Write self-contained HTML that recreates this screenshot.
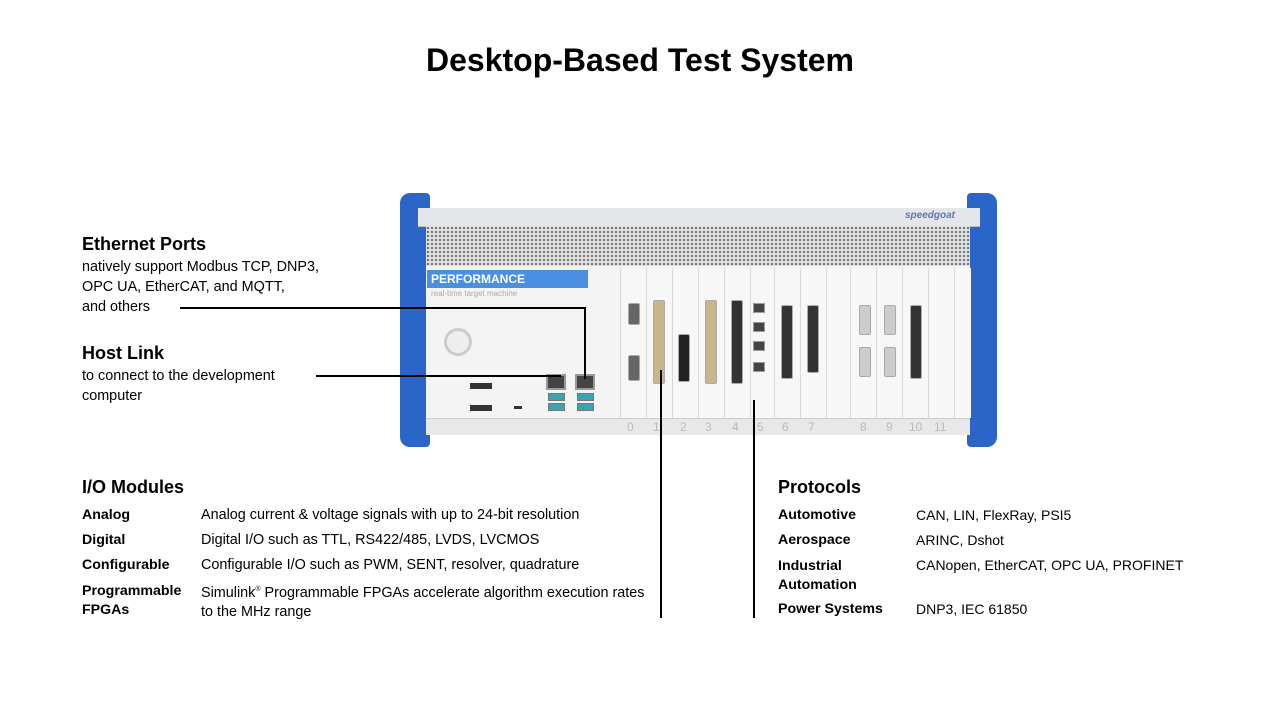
<!DOCTYPE html>
<html><head><meta charset="utf-8"><style>
body{margin:0;width:1280px;height:720px;background:#fff;position:relative;overflow:hidden;font-family:"Liberation Sans",sans-serif;color:#000}
.a{position:absolute;white-space:nowrap}
.h{font-weight:bold;font-size:18px}
.t{font-size:14.4px;line-height:20px}
.b{font-weight:bold;font-size:14.2px}
.ln{position:absolute;background:#000}
.slot{position:absolute;top:268px;height:150px;border-left:1px solid #d8d8d8;background:#f7f7f7}
.num{position:absolute;top:420px;font-size:12px;color:#bbb}
.dsub{position:absolute;width:10px;border:1px solid #aaa;background:#666;border-radius:2px}
.eth{position:absolute;width:16px;height:12px;background:#444;border:2px solid #999}
.usb{position:absolute;width:15px;height:6px;background:#3aa3b0;border:1px solid #777}
</style></head><body>
<div class="a" style="left:0;width:1280px;text-align:center;top:42px;font-size:32px;font-weight:bold">Desktop-Based Test System</div>

<!-- device -->
<div style="position:absolute;left:400px;top:193px;width:30px;height:254px;background:#2a66c8;border-radius:10px 4px 4px 10px"></div>
<div style="position:absolute;left:967px;top:193px;width:30px;height:254px;background:#2a66c8;border-radius:4px 10px 10px 4px"></div>
<div style="position:absolute;left:418px;top:208px;width:562px;height:18px;background:#e4e6ea;border-bottom:1px solid #bbb"></div>
<div class="a" style="left:905px;top:210px;font-size:10px;font-style:italic;color:#5a7ab0;font-weight:bold">speedgoat</div>
<div style="position:absolute;left:426px;top:226px;width:544px;height:40px;background:radial-gradient(circle,#777 0 1px,transparent 1.5px) 0 0/4px 4px,#e6e6e6"></div>
<div style="position:absolute;left:426px;top:266px;width:544px;height:152px;background:#f4f4f5"></div>
<div style="position:absolute;left:426px;top:418px;width:544px;height:16px;background:#e8e8ea;border-top:1px solid #ccc"></div>
<div class="a" style="left:427px;top:270px;width:161px;height:18px;background:#4a8fe0;color:#fff;font-size:12px;font-weight:bold;line-height:18px;padding-left:4px;box-sizing:border-box">PERFORMANCE</div>
<div class="a" style="left:431px;top:289px;font-size:8px;color:#aaa">real-time target machine</div>
<div style="position:absolute;left:444px;top:328px;width:22px;height:22px;border-radius:50%;border:3px solid #ccc;background:#eee"></div>
<div style="position:absolute;left:470px;top:383px;width:22px;height:6px;background:#333"></div>
<div style="position:absolute;left:470px;top:405px;width:22px;height:6px;background:#333"></div>
<div style="position:absolute;left:514px;top:406px;width:8px;height:3px;background:#333"></div>
<div class="eth" style="left:546px;top:374px"></div><div class="eth" style="left:575px;top:374px"></div>
<div class="usb" style="left:548px;top:393px"></div><div class="usb" style="left:577px;top:393px"></div>
<div class="usb" style="left:548px;top:403px"></div><div class="usb" style="left:577px;top:403px"></div>
<div class="slot" style="left:620px;width:26px"></div>
<div class="slot" style="left:646px;width:26px"></div>
<div class="slot" style="left:672px;width:26px"></div>
<div class="slot" style="left:698px;width:26px"></div>
<div class="slot" style="left:724px;width:26px"></div>
<div class="slot" style="left:750px;width:24px"></div>
<div class="slot" style="left:774px;width:26px"></div>
<div class="slot" style="left:800px;width:26px"></div>
<div class="slot" style="left:826px;width:24px"></div>
<div class="slot" style="left:850px;width:26px"></div>
<div class="slot" style="left:876px;width:26px"></div>
<div class="slot" style="left:902px;width:26px"></div>
<div class="slot" style="left:928px;width:26px"></div>
<div class="slot" style="left:954px;width:16px"></div>
<div class="dsub" style="left:628px;top:303px;height:20px"></div>
<div class="dsub" style="left:628px;top:355px;height:24px"></div>
<div class="dsub" style="left:653px;top:300px;height:82px;background:#c9b68a"></div>
<div class="dsub" style="left:678px;top:334px;height:46px;background:#222"></div>
<div class="dsub" style="left:705px;top:300px;height:82px;background:#c9b68a"></div>
<div class="dsub" style="left:731px;top:300px;height:82px;background:#333"></div>
<div class="eth" style="left:753px;top:303px;width:10px;height:8px;border-width:1px"></div>
<div class="eth" style="left:753px;top:322px;width:10px;height:8px;border-width:1px"></div>
<div class="eth" style="left:753px;top:341px;width:10px;height:8px;border-width:1px"></div>
<div class="eth" style="left:753px;top:362px;width:10px;height:8px;border-width:1px"></div>
<div class="dsub" style="left:781px;top:305px;height:72px;background:#333"></div>
<div class="dsub" style="left:807px;top:305px;height:66px;background:#333"></div>
<div class="dsub" style="left:859px;top:305px;height:28px;background:#ccc"></div>
<div class="dsub" style="left:859px;top:347px;height:28px;background:#ccc"></div>
<div class="dsub" style="left:884px;top:305px;height:28px;background:#ccc"></div>
<div class="dsub" style="left:884px;top:347px;height:28px;background:#ccc"></div>
<div class="dsub" style="left:910px;top:305px;height:72px;background:#333"></div>
<div class="num" style="left:627px">0</div><div class="num" style="left:653px">1</div><div class="num" style="left:680px">2</div><div class="num" style="left:705px">3</div><div class="num" style="left:732px">4</div><div class="num" style="left:757px">5</div><div class="num" style="left:782px">6</div><div class="num" style="left:808px">7</div><div class="num" style="left:860px">8</div><div class="num" style="left:886px">9</div><div class="num" style="left:909px">10</div><div class="num" style="left:934px">11</div>

<!-- lines -->
<div class="ln" style="left:180px;top:307px;width:406px;height:2px"></div>
<div class="ln" style="left:584px;top:307px;width:2px;height:72px"></div>
<div class="ln" style="left:316px;top:375px;width:245px;height:2px"></div>
<div class="ln" style="left:660px;top:370px;width:2px;height:248px"></div>
<div class="ln" style="left:753px;top:400px;width:2px;height:218px"></div>

<!-- left texts -->
<div class="a h" style="left:82px;top:234px">Ethernet Ports</div>
<div class="a t" style="left:82px;top:257px">natively support Modbus TCP, DNP3,<br>OPC UA, EtherCAT, and MQTT,<br>and others</div>
<div class="a h" style="left:82px;top:343px">Host Link</div>
<div class="a t" style="left:82px;top:366px">to connect to the development<br>computer</div>

<div class="a h" style="left:82px;top:477px">I/O Modules</div>
<div class="a b" style="left:82px;top:507px">Analog</div><div class="a t" style="left:201px;top:505px">Analog current &amp; voltage signals with up to 24-bit resolution</div>
<div class="a b" style="left:82px;top:532px">Digital</div><div class="a t" style="left:201px;top:530px">Digital I/O such as TTL, RS422/485, LVDS, LVCMOS</div>
<div class="a b" style="left:82px;top:557px">Configurable</div><div class="a t" style="left:201px;top:555px">Configurable I/O such as PWM, SENT, resolver, quadrature</div>
<div class="a b" style="left:82px;top:582px;line-height:19px">Programmable<br>FPGAs</div><div class="a t" style="left:201px;top:580px;line-height:19px">Simulink<sup style="font-size:7px">®</sup> Programmable FPGAs accelerate algorithm execution rates<br>to the MHz range</div>

<div class="a h" style="left:778px;top:477px">Protocols</div>
<div class="a b" style="left:778px;top:507px">Automotive</div><div class="a t" style="left:916px;top:505px;font-size:14px">CAN, LIN, FlexRay, PSI5</div>
<div class="a b" style="left:778px;top:532px">Aerospace</div><div class="a t" style="left:916px;top:530px;font-size:14px">ARINC, Dshot</div>
<div class="a b" style="left:778px;top:557px;line-height:19px">Industrial<br>Automation</div><div class="a t" style="left:916px;top:555px;font-size:14px">CANopen, EtherCAT, OPC UA, PROFINET</div>
<div class="a b" style="left:778px;top:601px">Power Systems</div><div class="a t" style="left:916px;top:599px;font-size:14px">DNP3, IEC 61850</div>
</body></html>
